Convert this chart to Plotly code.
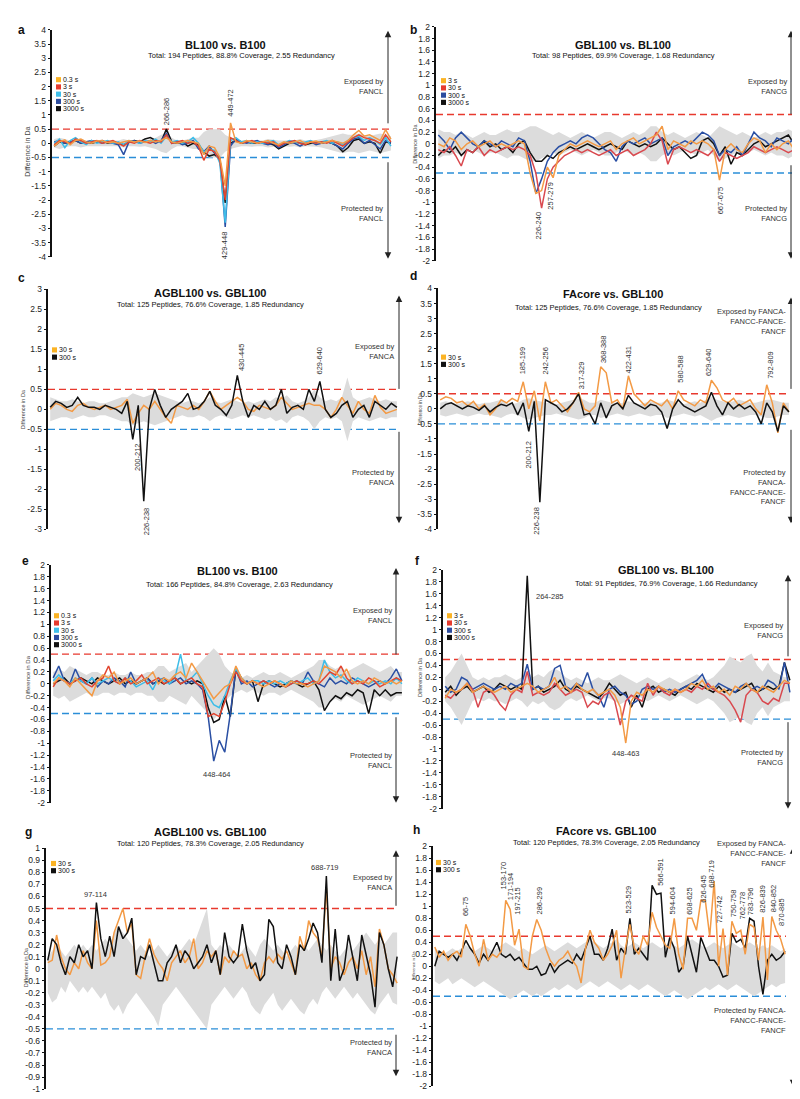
import plotly.graph_objects as go

W, H = 800, 1099
FONT = "Liberation Sans, Arial, Helvetica, sans-serif"

# ---------------- colours ----------------
SQ_OR, SQ_RD, SQ_CY, SQ_BL, SQ_BK = "#FBB324", "#E63B2E", "#3FBFEA", "#2C4C9F", "#111111"
LN_OR, LN_RD, LN_RD2, LN_CY, LN_BL, LN_BK = "#F39A45", "#E2452F", "#D9494F", "#3DBDE8", "#2A4FA3", "#111111"
BAND = "#DCDCDC"
RED_D, BLUE_D = "#E8392E", "#2B8ED8"

# ---------------- data: panel a (BL100 vs. B100) ----------------
a_03 = [-0.1,0.05,0.12,-0.05,0.1,0.15,0.05,0.0,0.08,0.1,
        0.02,0.05,0.0,0.05,0.1,0.05,0.08,0.03,0.1,0.05,
        0.1,0.2,0.05,0.0,0.05,0.1,0.05,0.0,-0.4,-0.1,
        -0.15,-0.5,-1.5,0.72,0.05,0.0,0.1,0.05,0.0,0.05,
        0.1,0.0,-0.05,0.05,0.0,0.05,0.1,0.0,0.05,0.08,
        0.0,0.05,0.1,0.05,0.0,0.1,0.3,0.45,0.25,0.3,
        0.2,0.1,0.48,0.15]
a_3 = [-0.05,0.1,0.05,0.0,0.15,0.1,0.0,0.05,0.1,0.0,
       0.05,0.1,0.0,-0.1,0.05,0.0,0.1,0.05,0.0,0.1,
       0.05,0.3,0.0,0.05,0.1,0.0,0.05,-0.1,-0.6,-0.2,
       -0.3,-0.6,-2.0,0.2,0.1,0.0,0.05,0.1,0.0,0.05,
       0.0,0.05,-0.1,0.0,0.05,0.1,0.0,-0.05,0.05,0.0,
       0.05,0.0,0.1,0.0,-0.1,0.05,0.2,0.3,0.2,0.15,
       0.1,0.0,0.3,0.05]
a_30 = [0.0,0.15,-0.15,0.1,0.2,0.05,-0.05,0.1,0.0,0.05,
        0.1,0.0,0.05,-0.05,0.1,0.05,0.0,0.1,0.05,0.15,
        0.0,0.25,0.05,0.1,0.0,0.05,0.2,0.0,-0.3,-0.2,
        -0.25,-0.7,-2.8,0.1,0.2,0.05,0.1,0.0,0.05,0.0,
        0.05,0.1,-0.05,0.0,0.1,0.05,0.0,0.05,0.1,0.0,
        0.05,0.1,0.0,0.05,-0.05,0.1,0.2,0.25,0.1,0.2,
        0.1,-0.05,0.2,-0.1]
a_300 = [0.05,0.1,0.0,0.05,0.1,0.0,0.05,0.1,0.05,0.0,
         0.05,0.0,-0.05,-0.4,0.05,0.1,0.0,0.05,0.1,0.0,
         0.1,0.35,0.0,0.05,-0.05,0.0,0.1,-0.2,-0.3,-0.1,
         -0.35,-0.5,-2.95,-0.1,0.15,0.05,0.0,0.05,0.1,0.0,
         -0.05,0.0,-0.15,-0.05,0.05,0.0,-0.1,0.0,0.05,-0.05,
         0.0,0.05,0.0,-0.1,-0.2,0.0,0.15,0.2,0.0,0.1,
         -0.05,-0.2,0.1,0.0]
a_3000 = [-0.1,0.05,0.0,0.05,0.1,0.0,0.05,0.0,0.05,0.1,
          0.0,0.05,0.0,-0.05,0.05,0.1,0.05,0.15,0.2,0.1,
          0.05,0.5,0.05,0.0,0.05,-0.1,0.0,-0.05,-0.3,-0.45,
          -0.4,-0.55,-2.1,0.0,0.1,0.0,0.05,0.0,0.0,0.05,
          0.0,-0.05,-0.2,-0.1,0.0,0.05,0.0,-0.05,0.0,0.05,
          0.0,0.05,0.0,-0.1,-0.3,-0.15,0.1,0.15,0.0,0.05,
          0.0,-0.35,0.05,0.0]
a_band = [0.15,0.2,0.15,0.1,0.1,0.15,0.1,0.1,0.12,0.1,
          0.1,0.12,0.1,0.15,0.1,0.1,0.12,0.1,0.15,0.2,
          0.3,0.35,0.2,0.1,0.1,0.15,0.2,0.2,0.4,0.5,
          0.5,0.5,0.3,0.2,0.15,0.1,0.1,0.12,0.1,0.1,
          0.15,0.12,0.1,0.1,0.12,0.1,0.15,0.1,0.1,0.12,
          0.15,0.2,0.25,0.3,0.35,0.3,0.3,0.35,0.3,0.25,
          0.3,0.35,0.3,0.25]

# ---------------- panel b (GBL100 vs. BL100) ----------------
b_3 = [0.0,-0.05,0.1,0.05,-0.1,0.0,0.05,-0.05,0.0,0.05,
       -0.05,0.0,-0.05,0.0,0.05,0.0,-0.5,-0.85,-0.8,-0.4,
       -0.58,-0.2,-0.1,0.0,-0.05,0.0,0.05,0.0,-0.05,0.0,
       0.05,-0.1,0.0,0.05,0.1,0.0,0.05,0.1,0.15,0.3,
       -0.1,0.05,0.0,-0.05,0.05,0.0,0.05,0.0,-0.1,-0.62,
       -0.1,0.0,-0.1,-0.15,0.0,0.1,0.05,-0.15,0.0,-0.1,
       0.0,0.05,-0.1,0.32]
b_30 = [-0.1,-0.15,-0.05,-0.2,-0.38,-0.1,-0.15,-0.05,-0.2,-0.1,
        -0.15,-0.1,-0.05,-0.1,-0.05,-0.1,-0.2,-0.5,-1.1,-0.6,
        -0.4,-0.3,-0.2,-0.15,-0.1,-0.15,-0.1,-0.15,-0.2,-0.15,
        -0.1,-0.2,-0.15,-0.1,-0.2,-0.15,-0.1,0.0,0.2,0.05,
        -0.35,-0.1,-0.05,-0.1,-0.15,-0.1,-0.15,-0.2,-0.1,-0.3,
        -0.15,-0.2,-0.25,-0.2,-0.15,-0.05,-0.1,-0.15,-0.1,-0.05,
        -0.1,-0.15,-0.1,0.2]
b_300 = [0.15,0.05,-0.1,0.1,0.2,0.1,0.0,-0.05,0.05,0.0,
         -0.05,0.05,0.0,-0.05,0.1,0.05,-0.3,-0.85,-0.6,-0.3,
         -0.15,-0.05,0.0,0.05,0.0,0.1,0.15,0.1,0.0,-0.1,
         -0.15,-0.3,-0.05,0.05,0.0,0.05,0.1,0.0,0.05,0.1,
         -0.2,-0.05,0.0,0.05,0.0,0.1,0.2,0.15,0.05,-0.2,
         -0.1,-0.15,-0.05,-0.2,0.0,0.2,0.1,0.05,-0.05,0.1,
         0.05,0.0,0.1,0.2]
b_3000 = [-0.2,-0.1,-0.15,-0.05,-0.2,-0.1,-0.15,-0.05,0.05,-0.05,
          0.0,-0.1,-0.05,-0.15,0.0,0.05,-0.15,-0.3,-0.3,-0.2,
          -0.25,-0.15,-0.1,-0.05,-0.1,-0.05,0.0,-0.05,-0.1,-0.05,
          0.0,-0.05,-0.1,0.05,0.0,-0.05,0.0,-0.05,0.0,0.1,
          0.0,-0.1,-0.05,-0.15,-0.25,-0.2,0.05,0.1,0.0,-0.2,
          -0.05,-0.35,-0.15,-0.2,-0.1,0.0,0.05,-0.05,0.0,0.05,
          0.1,0.15,0.0,0.1]
b_band = [0.25,0.2,0.2,0.15,0.2,0.15,0.1,0.15,0.2,0.15,
          0.15,0.2,0.25,0.2,0.2,0.25,0.3,0.3,0.25,0.2,
          0.15,0.2,0.15,0.1,0.15,0.2,0.15,0.1,0.15,0.2,
          0.2,0.15,0.1,0.15,0.2,0.15,0.2,0.3,0.3,0.2,
          0.15,0.2,0.15,0.1,0.15,0.2,0.15,0.1,0.2,0.3,
          0.25,0.2,0.15,0.2,0.15,0.1,0.15,0.2,0.15,0.2,
          0.2,0.25,0.2,0.2]

# ---------------- panel c (AGBL100 vs. GBL100) ----------------
c_30 = [0.0,0.15,0.1,0.0,-0.05,0.1,0.15,0.05,0.0,0.05,
        0.1,0.0,0.05,0.1,0.25,-0.35,-0.1,0.1,0.0,0.2,
        0.0,-0.2,-0.35,0.1,0.05,0.0,0.1,0.0,0.2,0.45,
        0.2,0.0,0.1,0.2,0.3,0.2,0.0,-0.05,0.1,0.05,
        0.0,0.1,0.3,0.15,0.0,0.05,0.1,0.15,0.1,0.1,
        0.0,-0.2,0.0,0.3,0.1,-0.1,0.2,0.0,-0.1,0.35,
        0.05,-0.1,-0.05,0.0]
c_300 = [0.05,0.2,0.15,0.05,0.1,0.3,0.1,0.05,0.05,0.0,
         0.1,0.05,0.0,-0.1,0.2,-0.75,0.1,-2.3,0.0,0.5,
         0.1,-0.2,0.0,0.1,0.2,0.4,0.0,0.05,0.2,0.45,
         0.1,0.0,-0.15,0.1,0.85,0.2,-0.2,0.1,0.0,0.2,
         0.0,0.1,0.5,-0.1,0.05,0.1,0.0,0.5,0.2,0.7,
         0.0,-0.2,-0.1,0.1,0.2,-0.2,0.0,0.1,-0.2,0.2,
         0.1,0.0,0.15,0.05]
c_band = [0.3,0.25,0.2,0.2,0.25,0.2,0.15,0.2,0.2,0.15,
          0.15,0.2,0.25,0.3,0.3,0.4,0.35,0.3,0.35,0.4,
          0.35,0.3,0.25,0.2,0.15,0.2,0.2,0.15,0.2,0.3,
          0.2,0.15,0.2,0.25,0.2,0.15,0.2,0.15,0.2,0.25,
          0.2,0.3,0.25,0.35,0.2,0.15,0.2,0.3,0.5,0.3,
          0.2,0.25,0.2,0.3,0.8,0.3,0.2,0.25,0.3,0.25,
          0.2,0.25,0.2,0.2]

# ---------------- panel d (FAcore vs. GBL100) ----------------
d_30 = [0.3,0.4,0.35,0.2,0.25,0.1,0.25,0.0,0.15,-0.2,
        0.0,0.3,0.2,0.35,0.25,0.9,0.0,0.6,-0.4,0.9,
        0.2,0.3,0.1,-0.1,0.2,0.55,0.0,-0.1,0.1,1.4,
        1.2,0.2,0.3,0.0,1.1,0.5,0.3,0.1,0.3,0.2,
        0.1,0.3,0.0,0.6,0.3,0.2,0.1,0.3,0.2,0.95,
        0.7,0.3,0.2,0.35,0.1,0.2,0.3,0.0,-0.2,0.8,
        0.2,-0.8,0.2,-0.1]
d_300 = [0.0,0.15,0.2,0.1,0.0,0.1,0.05,-0.05,0.1,-0.1,
         0.05,0.15,0.1,0.2,-0.2,0.2,-0.75,0.25,-3.1,0.3,
         0.2,0.1,-0.1,0.0,0.2,0.5,-0.2,-0.15,-0.5,0.2,
         -0.3,0.1,0.2,0.0,0.45,0.2,0.1,0.0,0.15,0.1,
         -0.1,-0.65,0.0,0.3,0.1,0.0,-0.1,0.0,0.1,0.55,
         0.1,-0.2,0.2,0.0,0.15,0.0,0.1,-0.1,-0.5,0.2,
         -0.1,-0.75,0.1,-0.1]
d_band = [0.2,0.25,0.2,0.15,0.2,0.25,0.2,0.15,0.2,0.2,
          0.25,0.3,0.2,0.15,0.2,0.3,0.35,0.3,0.25,0.2,
          0.2,0.15,0.2,0.25,0.3,0.35,0.3,0.2,0.2,0.3,
          0.25,0.2,0.15,0.2,0.25,0.2,0.15,0.2,0.25,0.2,
          0.2,0.3,0.25,0.2,0.15,0.2,0.25,0.2,0.3,0.4,
          0.3,0.25,0.2,0.25,0.3,0.25,0.2,0.2,0.25,0.3,
          0.3,0.25,0.2,0.2]

# ---------------- panel e (BL100 vs. B100, second set) ----------------
e_03 = [0.0,0.1,0.05,-0.05,0.1,0.0,-0.1,-0.2,0.05,0.15,
        0.1,0.2,0.0,0.05,0.1,0.0,0.05,0.1,0.2,0.0,
        0.1,0.05,0.15,0.2,0.1,0.35,0.2,0.05,-0.1,-0.25,
        -0.15,-0.05,0.0,0.3,0.1,0.0,0.05,0.0,-0.05,0.0,
        0.05,0.0,-0.05,0.05,0.0,0.0,-0.05,0.0,0.05,0.3,
        0.25,0.2,0.1,0.25,0.05,0.0,0.05,0.0,0.1,0.05,
        0.0,0.05,0.0,0.05]
e_3 = [-0.05,0.1,0.05,0.0,0.05,0.1,0.0,-0.05,0.05,0.1,
       0.3,0.05,0.0,0.1,0.0,0.05,0.15,0.0,0.05,0.1,
       0.0,0.05,0.1,0.0,0.05,0.1,0.0,-0.05,-0.55,-0.5,
       -0.55,-0.3,0.0,0.2,0.05,0.0,0.05,0.0,0.05,0.0,
       0.05,0.0,-0.05,0.0,0.05,0.0,0.0,0.05,0.0,0.1,
       0.2,0.15,0.3,0.1,0.0,0.05,0.0,0.1,0.05,-0.05,
       0.0,0.05,0.1,0.05]
e_30 = [0.05,0.15,0.05,0.0,0.1,0.05,0.0,0.1,0.0,0.05,
        0.1,0.05,0.0,0.1,0.05,-0.05,0.0,0.05,-0.1,0.1,
        0.05,0.0,0.1,0.5,0.05,0.1,0.2,0.0,-0.2,-0.35,
        -0.4,-0.2,0.05,0.25,0.1,0.0,0.05,0.05,0.0,0.05,
        0.0,0.05,0.0,0.05,0.0,0.05,0.1,0.0,0.05,0.4,
        0.2,0.1,0.15,0.05,0.0,0.1,0.05,0.0,0.05,0.0,
        0.05,0.0,0.1,0.0]
e_300 = [0.1,0.3,0.05,0.0,0.25,0.05,0.0,0.1,-0.05,0.05,
         0.0,0.1,0.05,-0.05,0.2,0.0,0.05,0.1,0.0,0.05,
         0.1,0.0,0.05,0.1,0.0,0.05,0.0,-0.1,-0.55,-1.3,
         -0.95,-1.15,-0.5,0.25,0.0,0.05,-0.05,0.0,0.05,0.0,
         -0.05,0.0,-0.05,0.0,0.05,0.0,0.2,0.05,0.0,-0.05,
         0.1,0.0,0.05,0.0,0.1,0.05,0.0,-0.05,0.0,0.05,
         0.0,0.1,0.25,0.05]
e_3000 = [0.0,0.05,0.1,0.0,0.05,0.1,0.05,0.0,0.1,0.05,
          0.0,0.05,0.1,0.0,0.05,0.0,0.05,0.1,0.0,0.05,
          0.0,0.05,0.1,0.0,0.05,0.0,0.05,0.0,-0.4,-0.65,
          -0.6,-0.2,-0.55,0.25,0.1,0.0,0.05,-0.3,0.0,0.05,
          0.0,-0.05,0.0,0.05,0.0,-0.05,0.0,0.05,-0.1,-0.45,
          -0.3,-0.2,-0.25,-0.15,-0.2,-0.1,-0.15,-0.5,-0.1,-0.2,
          -0.1,-0.2,-0.15,-0.15]
e_band = [0.2,0.25,0.2,0.3,0.25,0.2,0.15,0.2,0.2,0.15,
          0.15,0.2,0.15,0.15,0.2,0.15,0.15,0.2,0.2,0.3,
          0.3,0.2,0.25,0.3,0.35,0.2,0.3,0.4,0.5,0.6,
          0.5,0.3,0.2,0.15,0.1,0.15,0.1,0.15,0.2,0.15,
          0.15,0.2,0.15,0.1,0.15,0.2,0.25,0.3,0.4,0.4,
          0.3,0.25,0.3,0.2,0.25,0.3,0.35,0.3,0.25,0.2,
          0.25,0.3,0.2,0.2]

# ---------------- panel f (GBL100 vs. BL100, second set) ----------------
f_3 = [-0.15,0.0,-0.05,0.0,0.1,-0.05,0.0,0.05,0.0,-0.05,
       0.0,0.05,-0.05,0.0,0.05,0.1,0.05,-0.05,0.0,0.05,
       0.2,0.0,0.05,-0.05,0.1,0.0,-0.05,0.0,-0.1,-0.05,
       0.0,-0.1,-0.3,-0.9,-0.2,-0.05,-0.1,0.0,-0.05,0.05,
       0.0,-0.05,0.0,-0.05,0.0,0.1,0.05,0.15,0.0,0.05,
       -0.05,0.0,-0.1,0.05,0.0,0.1,0.0,-0.05,0.05,0.0,
       -0.05,0.05,0.15,0.1]
f_30 = [-0.1,-0.15,-0.05,0.0,0.1,0.0,-0.3,-0.05,0.0,-0.1,
        -0.25,-0.35,-0.1,0.0,-0.05,0.3,-0.1,-0.05,-0.1,-0.05,
        0.1,0.0,-0.1,-0.05,0.0,-0.05,-0.3,-0.2,-0.25,-0.1,
        -0.05,-0.2,-0.6,-0.2,-0.1,-0.15,-0.2,0.1,-0.1,0.05,
        -0.05,-0.1,0.0,-0.05,0.0,-0.05,0.05,0.0,0.1,0.0,
        -0.05,-0.1,-0.2,-0.35,-0.55,-0.1,0.0,-0.05,-0.2,-0.25,
        -0.15,-0.2,0.1,0.1]
f_300 = [0.05,-0.05,0.0,0.2,0.15,0.0,0.05,0.1,0.05,0.0,
         0.05,0.0,0.1,0.05,0.1,0.42,0.0,0.05,0.0,0.05,
         0.35,0.4,0.05,0.0,0.1,0.05,0.28,0.0,-0.1,-0.3,
         0.0,0.05,-0.05,-0.1,-0.25,-0.2,0.0,0.05,0.0,0.05,
         -0.05,0.0,-0.05,0.0,0.05,0.1,0.15,0.25,0.05,0.0,
         0.1,0.05,0.0,-0.05,0.05,0.1,0.0,0.05,0.0,0.15,
         0.1,0.0,0.45,-0.05]
f_3000 = [-0.05,0.05,-0.1,0.0,0.05,-0.05,0.0,0.05,-0.05,0.0,
          0.1,0.05,0.0,0.05,0.0,1.9,0.0,0.05,-0.05,0.0,
          0.05,0.15,0.0,-0.05,0.05,0.0,-0.05,-0.1,-0.15,-0.05,
          0.1,0.0,-0.1,-0.05,-0.3,-0.1,-0.3,0.0,0.05,-0.05,
          0.0,-0.05,-0.1,0.0,0.05,0.0,0.1,0.05,0.0,-0.05,
          0.05,-0.05,0.0,-0.05,0.0,0.05,0.1,-0.05,0.0,0.05,
          0.0,0.05,0.45,0.15]
f_band = [0.2,0.3,0.45,0.6,0.4,0.2,0.15,0.2,0.15,0.2,
          0.2,0.25,0.2,0.15,0.2,0.3,0.2,0.25,0.2,0.3,
          0.35,0.3,0.2,0.15,0.2,0.15,0.1,0.15,0.2,0.15,
          0.15,0.2,0.25,0.2,0.15,0.1,0.15,0.2,0.15,0.1,
          0.15,0.2,0.15,0.1,0.15,0.2,0.25,0.2,0.15,0.2,
          0.3,0.4,0.55,0.5,0.45,0.55,0.6,0.4,0.3,0.45,
          0.3,0.25,0.2,0.2]

# ---------------- panel g (AGBL100 vs. GBL100, second set) ----------------
g_30 = [0.05,0.07,0.28,0.1,0.0,-0.05,0.05,0.0,0.15,0.05,
        0.0,0.4,0.03,0.05,0.1,0.3,0.4,0.5,0.3,0.38,
        -0.05,-0.08,0.1,0.25,0.12,0.05,0.0,-0.1,0.05,0.1,
        0.15,0.05,0.1,0.25,0.0,0.05,0.15,0.1,0.15,-0.05,
        0.1,0.05,0.15,0.1,0.12,0.0,0.05,-0.05,-0.1,0.05,
        0.1,0.05,0.12,0.08,0.15,0.05,-0.05,0.27,0.15,0.4,
        0.3,0.25,0.1,0.67,0.0,0.1,0.05,-0.05,0.05,0.1,
        0.0,0.15,-0.05,0.1,-0.15,0.33,0.2,0.0,-0.05,-0.12]
g_300 = [0.07,0.25,0.2,0.05,-0.05,0.1,0.05,0.2,0.1,0.15,
         0.0,0.55,0.25,0.1,0.27,0.1,0.35,0.25,0.3,0.42,
         -0.05,0.1,0.08,0.2,0.05,-0.1,-0.1,0.05,0.1,0.2,
         0.05,0.15,0.1,0.0,0.05,0.1,0.2,0.05,0.15,-0.05,
         0.3,0.1,0.05,0.1,0.37,0.15,0.0,0.05,-0.1,-0.05,
         0.41,0.35,0.05,0.0,0.2,0.1,-0.05,0.2,0.15,0.25,
         0.38,0.3,0.05,0.77,-0.1,0.33,-0.1,0.0,0.28,0.1,
         -0.1,0.28,0.1,-0.05,-0.32,0.3,0.2,0.0,-0.15,0.1]
g_hi = [0.1,0.15,0.2,0.15,0.1,0.15,0.2,0.15,0.2,0.15,
        0.2,0.15,0.2,0.25,0.2,0.3,0.35,0.3,0.25,0.2,
        0.15,0.2,0.15,0.1,0.15,0.2,0.15,0.1,0.15,0.2,
        0.15,0.2,0.25,0.2,0.3,0.4,0.5,0.2,0.15,0.2,
        0.15,0.2,0.15,0.1,0.15,0.2,0.15,0.1,0.2,0.25,
        0.2,0.15,0.2,0.15,0.1,0.15,0.2,0.15,0.2,0.15,
        0.2,0.25,0.2,0.15,0.2,0.15,0.1,0.15,0.2,0.15,
        0.2,0.25,0.3,0.25,0.2,0.25,0.2,0.25,0.3,0.3]
g_lo = [-0.2,-0.28,-0.25,-0.15,-0.2,-0.1,-0.15,-0.2,-0.15,-0.2,
        -0.15,-0.2,-0.25,-0.2,-0.3,-0.35,-0.3,-0.38,-0.3,-0.25,
        -0.2,-0.25,-0.3,-0.35,-0.4,-0.48,-0.3,-0.25,-0.2,-0.15,
        -0.2,-0.25,-0.3,-0.35,-0.4,-0.45,-0.5,-0.3,-0.25,-0.2,
        -0.15,-0.2,-0.25,-0.2,-0.15,-0.2,-0.3,-0.35,-0.38,-0.3,
        -0.25,-0.2,-0.3,-0.35,-0.3,-0.25,-0.3,-0.35,-0.38,-0.3,
        -0.25,-0.3,-0.2,-0.15,-0.2,-0.25,-0.2,-0.15,-0.2,-0.25,
        -0.2,-0.25,-0.3,-0.35,-0.38,-0.3,-0.25,-0.2,-0.28,-0.3]

# ---------------- panel h (FAcore vs. GBL100, second set) ----------------
h_30 = [0.32,0.15,0.25,0.1,0.2,0.25,0.15,0.7,0.5,0.2,
        0.0,0.45,0.1,0.2,0.15,0.25,1.1,0.95,0.35,0.62,
        0.0,-0.05,0.5,0.78,0.6,0.3,0.1,0.0,0.1,0.15,
        0.25,0.1,0.0,-0.28,0.3,0.6,0.4,0.3,0.1,0.2,
        0.35,0.6,-0.2,0.3,0.7,0.3,0.2,0.5,0.35,0.9,
        0.65,0.5,0.35,0.3,0.8,0.2,-0.05,0.8,0.8,0.6,
        1.1,1.1,0.5,1.42,0.0,0.63,-0.15,0.75,0.55,0.6,
        0.2,0.7,0.65,0.1,0.82,-0.23,0.83,0.6,0.45,0.2]
h_300 = [0.0,0.25,0.2,0.15,0.2,0.1,0.25,0.43,0.3,0.2,
         0.05,0.2,0.1,0.25,0.4,0.2,0.15,0.2,0.1,0.15,
         0.05,-0.05,-0.05,0.0,-0.15,-0.12,0.05,-0.1,0.0,0.05,
         0.1,0.05,0.2,0.1,0.3,0.5,0.2,0.2,0.1,0.3,
         0.62,0.1,0.3,0.2,0.8,0.2,0.3,0.2,0.1,1.35,
         1.2,1.22,0.15,0.48,0.3,-0.1,0.0,0.5,0.2,-0.1,
         0.48,0.3,0.1,0.1,0.0,-0.18,-0.15,0.55,0.4,0.45,
         0.3,0.8,0.75,0.0,-0.47,0.1,0.2,0.1,0.15,0.25]
h_hi = [0.3,0.25,0.2,0.25,0.3,0.25,0.3,0.35,0.3,0.25,
        0.3,0.35,0.3,0.25,0.3,0.35,0.4,0.35,0.3,0.25,
        0.3,0.25,0.2,0.25,0.3,0.35,0.3,0.25,0.3,0.35,
        0.4,0.35,0.3,0.35,0.4,0.45,0.4,0.35,0.3,0.35,
        0.4,0.45,0.35,0.3,0.35,0.4,0.35,0.3,0.35,0.4,
        0.35,0.3,0.35,0.4,0.35,0.3,0.35,0.4,0.45,0.4,
        0.35,0.3,0.35,0.4,0.35,0.3,0.35,0.4,0.35,0.3,
        0.35,0.4,0.35,0.3,0.35,0.3,0.35,0.3,0.25,0.3]
h_lo = [-0.25,-0.3,-0.25,-0.2,-0.3,-0.25,-0.2,-0.25,-0.3,-0.35,
        -0.3,-0.25,-0.3,-0.35,-0.4,-0.45,-0.5,-0.55,-0.5,-0.45,
        -0.4,-0.45,-0.5,-0.45,-0.5,-0.45,-0.4,-0.35,-0.4,-0.35,
        -0.3,-0.35,-0.4,-0.35,-0.3,-0.25,-0.3,-0.35,-0.3,-0.25,
        -0.3,-0.35,-0.4,-0.35,-0.3,-0.35,-0.4,-0.35,-0.3,-0.35,
        -0.4,-0.45,-0.5,-0.45,-0.4,-0.45,-0.5,-0.55,-0.5,-0.45,
        -0.4,-0.35,-0.4,-0.35,-0.3,-0.35,-0.4,-0.35,-0.3,-0.35,
        -0.4,-0.45,-0.5,-0.45,-0.4,-0.35,-0.3,-0.35,-0.3,-0.28]

# ---------------- peptide labels (index, value, text, mode) ----------------
a_labels = [(21, 0.58, "266-286", "up"), (33, 0.85, "449-472", "up"), (32, -3.02, "429-448", "down")]
b_labels = [(17.4, -1.12, "226-240", "down"), (19.4, -0.62, "257-279", "down"), (49.2, -0.7, "667-675", "down")]
c_labels = [(15.9, -0.8, "200-212", "down"), (17.4, -2.4, "226-238", "down"),
            (34.8, 0.9, "430-445", "up"), (48.9, 0.83, "629-640", "up")]
d_labels = [(14.9, 1.07, "185-199", "up"), (19.1, 1.07, "242-256", "up"), (25.5, 0.6, "317-329", "up"),
            (29.5, 1.47, "368-388", "up"), (34.0, 1.12, "422-431", "up"), (43.5, 0.8, "580-588", "up"),
            (48.6, 1.03, "629-640", "up"), (59.7, 0.92, "792-809", "up"),
            (15.9, -0.98, "200-212", "down"), (17.4, -3.2, "226-238", "down")]
e_labels = [(29.6, -1.52, "448-464", "h")]
f_labels = [(16.2, 1.55, "264-285", "hl"), (33.0, -1.07, "448-463", "h")]
g_labels = [(10.9, 0.62, "97-114", "h"), (62.8, 0.84, "688-719", "h")]
h_labels = [(7.1, 0.8, "66-75", "up"), (15.5, 1.24, "153-170", "up"), (17.0, 1.07, "171-194", "up"),
            (18.6, 0.83, "197-215", "up"), (23.5, 0.83, "286-299", "up"), (43.7, 0.84, "523-529", "up"),
            (50.9, 1.3, "566-591", "up"), (53.7, 0.83, "594-604", "up"), (57.4, 0.83, "608-625", "up"),
            (60.4, 1.02, "626-645", "up"), (62.2, 1.27, "688-719", "up"), (64.2, 0.69, "727-742", "up"),
            (67.4, 0.78, "750-758", "up"), (69.3, 0.75, "762-778", "up"), (71.2, 0.81, "783-796", "up"),
            (74.0, 0.86, "826-839", "up"), (76.4, 0.86, "840-852", "up"), (78.3, 0.64, "870-885", "up")]

LEG5 = ["0.3 s", "3 s", "30 s", "300 s", "3000 s"]
LEG4 = ["3 s", "30 s", "300 s", "3000 s"]
LEG2 = ["30 s", "300 s"]


def neg(v):
    return [-x for x in v]


# ---------------- panel layout specs ----------------
panels = [
    dict(letter="a", lp=(13, 17), ax=44, ex=384, yt=17, yb=246, yr=(-4, 4), step=0.5,
         title="BL100 vs. B100", tp=(217, 32),
         sub="Total: 194 Peptides, 88.8% Coverage, 2.55 Redundancy", sp=(233, 43),
         yt_pos=(20, 140, 7),
         leg=(48, 67.3, 7.3, LEG5, [SQ_OR, SQ_RD, SQ_CY, SQ_BL, SQ_BK]),
         series=[(a_3000, LN_BK), (a_300, LN_BL), (a_30, LN_CY), (a_3, LN_RD), (a_03, LN_OR)],
         band=(neg(a_band), a_band), labels=a_labels,
         arrow=(380, 18, 112, 150, 248),
         exp=("Exposed by<br>FANCL", 377, 74), prot=("Protected by<br>FANCL", 377, 202)),
    dict(letter="b", lp=(406, 17), ax=428, ex=793, yt=14, yb=250, yr=(-2, 2), step=0.2,
         title="GBL100 vs. BL100", tp=(615, 32),
         sub="Total: 98 Peptides, 69.9% Coverage, 1.68 Redundancy", sp=(615, 43),
         yt_pos=(407, 132, 5.5),
         leg=(433, 68.3, 7.3, LEG4, [SQ_OR, SQ_RD, SQ_BL, SQ_BK]),
         series=[(b_3000, LN_BK), (b_300, LN_BL), (b_30, LN_RD2), (b_3, LN_OR)],
         band=(neg(b_band), b_band), labels=b_labels,
         arrow=(783, 18, 103, 153, 248),
         exp=("Exposed by<br>FANCG", 781, 74.5), prot=("Protected by<br>FANCG", 781, 202)),
    dict(letter="c", lp=(13, 267), ax=40, ex=390, yt=279, yb=521, yr=(-3, 3), step=0.5,
         title="AGBL100 vs. GBL100", tp=(202, 283),
         sub="Total: 125 Peptides, 76.6% Coverage, 1.85 Redundancy", sp=(202, 294),
         yt_pos=(15, 400, 5.5),
         leg=(44, 340, 7.3, LEG2, [SQ_OR, SQ_BK]),
         series=[(c_30, LN_OR), (c_300, LN_BK)],
         band=(neg(c_band), c_band), labels=c_labels,
         arrow=(391, 285, 380, 422, 515),
         exp=("Exposed by<br>FANCA", 388, 341.5), prot=("Protected by<br>FANCA", 388, 469)),
    dict(letter="d", lp=(405, 265), ax=430, ex=782, yt=278, yb=521, yr=(-4, 4), step=0.5,
         title="FAcore vs. GBL100", tp=(605, 284),
         sub="Total: 125 Peptides, 76.6% Coverage, 1.85 Redundancy", sp=(600, 297),
         yt_pos=(412, 400, 4.5),
         leg=(433, 347.3, 7.3, LEG2, [SQ_OR, SQ_BK]),
         series=[(d_30, LN_OR), (d_300, LN_BK)],
         band=(neg(d_band), d_band), labels=d_labels,
         arrow=(783, 287, 380, 420, 515),
         exp=("Exposed by FANCA-<br>FANCC-FANCE-<br>FANCF", 780, 311),
         prot=("Protected by<br>FANCA-<br>FANCC-FANCE-<br>FANCF", 780, 478)),
    dict(letter="e", lp=(17, 553), ax=43, ex=395, yt=557, yb=797, yr=(-2, 2), step=0.2,
         title="BL100 vs. B100", tp=(230, 563),
         sub="Total: 166 Peptides, 84.8% Coverage, 2.63 Redundancy", sp=(232, 577),
         yt_pos=(20, 670, 6),
         leg=(46, 608.3, 7.3, LEG5, [SQ_OR, SQ_RD, SQ_CY, SQ_BL, SQ_BK]),
         series=[(e_3000, LN_BK), (e_300, LN_BL), (e_30, LN_CY), (e_3, LN_RD), (e_03, LN_OR)],
         band=(neg(e_band), e_band), labels=e_labels,
         arrow=(388, 560, 648, 710, 797),
         exp=("Exposed by<br>FANCL", 386, 608), prot=("Protected by<br>FANCL", 386, 754.5)),
    dict(letter="f", lp=(410, 553), ax=435, ex=783, yt=562, yb=803, yr=(-2, 2), step=0.2,
         title="GBL100 vs. BL100", tp=(658, 562),
         sub="Total: 91 Peptides, 76.9% Coverage, 1.66 Redundancy", sp=(658, 576),
         yt_pos=(412, 670, 5.5),
         leg=(439, 608.3, 7.3, LEG4, [SQ_OR, SQ_RD, SQ_BL, SQ_BK]),
         series=[(f_3000, LN_BK), (f_300, LN_BL), (f_30, LN_RD2), (f_3, LN_OR)],
         band=(neg(f_band), f_band), labels=f_labels,
         arrow=(780, 567, 650, 715, 803),
         exp=("Exposed by<br>FANCG", 777, 623.5), prot=("Protected by<br>FANCG", 777, 751.5)),
    dict(letter="g", lp=(20, 827), ax=38, ex=390, yt=843, yb=1086, yr=(-1, 1), step=0.1,
         title="AGBL100 vs. GBL100", tp=(202, 827),
         sub="Total: 120 Peptides, 78.3% Coverage, 2.05 Redundancy", sp=(203, 838),
         yt_pos=(18, 963, 5.5),
         leg=(43, 858.3, 7.3, LEG2, [SQ_OR, SQ_BK]),
         series=[(g_30, LN_OR), (g_300, LN_BK)],
         band=(g_lo, g_hi), labels=g_labels,
         arrow=(388, 845, 902, 1030, 1073),
         exp=("Exposed by<br>FANCA", 386, 877), prot=("Protected by<br>FANCA", 386, 1044.5)),
    dict(letter="h", lp=(408, 825), ax=425, ex=778, yt=841, yb=1083, yr=(-2, 2), step=0.2,
         title="FAcore vs. GBL100", tp=(598, 826),
         sub="Total: 120 Peptides, 78.3% Coverage, 2.05 Redundancy", sp=(598, 837),
         yt_pos=(405, 962, 4),
         leg=(428, 857.3, 7.3, LEG2, [SQ_OR, SQ_BK]),
         series=[(h_300, LN_BK), (h_30, LN_OR)],
         band=(h_lo, h_hi), labels=h_labels,
         arrow=(785, 842, 930, 999, 1083),
         exp=("Exposed by FANCA-<br>FANCC-FANCE-<br>FANCF", 780, 848),
         prot=("Protected by FANCA-<br>FANCC-FANCE-<br>FANCF", 780, 1017)),
]


def fx(px):
    return px / W


def fy(py):
    return 1 - py / H


def fmt(v):
    v = round(v, 2)
    if abs(v) < 1e-9:
        return "0"
    return f"{v:g}"


fig = go.Figure()
ann = []
shapes = []
layout_axes = {}
TXT = "#333333"

for k, P in enumerate(panels, start=1):
    xa = "x" if k == 1 else f"x{k}"
    ya = "y" if k == 1 else f"y{k}"
    n = len(P["series"][0][0])
    xs = list(range(n))
    lo, hi = P["band"]
    fig.add_trace(go.Scatter(x=xs, y=lo, xaxis=xa, yaxis=ya, mode="lines",
                             line=dict(width=0, color=BAND), hoverinfo="skip", showlegend=False))
    fig.add_trace(go.Scatter(x=xs, y=hi, xaxis=xa, yaxis=ya, mode="lines", fill="tonexty",
                             fillcolor=BAND, line=dict(width=0, color=BAND),
                             hoverinfo="skip", showlegend=False))
    for vals, col in P["series"]:
        fig.add_trace(go.Scatter(x=xs, y=vals, xaxis=xa, yaxis=ya, mode="lines",
                                 line=dict(color=col, width=1.5), showlegend=False))

    y0, y1 = P["yr"]
    nt = int(round((y1 - y0) / P["step"]))
    tv = [y0 + i * P["step"] for i in range(nt + 1)]
    xr = [-0.4, n - 1 + 0.2]
    layout_axes["xaxis" if k == 1 else f"xaxis{k}"] = dict(
        domain=[fx(P["ax"]), fx(P["ex"])], range=xr, visible=False,
        anchor=ya, fixedrange=True)
    layout_axes["yaxis" if k == 1 else f"yaxis{k}"] = dict(
        domain=[fy(P["yb"]), fy(P["yt"])], range=[y0, y1], anchor=xa,
        showline=True, linewidth=1.6, linecolor="#111", ticks="outside", ticklen=2.5,
        tickwidth=1, tickcolor="#111", tickvals=tv, ticktext=[fmt(v) for v in tv],
        tickfont=dict(size=8.5, color="#222", family=FONT), showgrid=False, zeroline=False,
        fixedrange=True)

    # dashed thresholds
    for yv, col in ((0.5, RED_D), (-0.5, BLUE_D)):
        shapes.append(dict(type="line", xref=xa, yref=ya, x0=xr[0], x1=xr[1], y0=yv, y1=yv,
                           line=dict(color=col, width=1.4, dash="7px,4px"), layer="below"))

    # letter, titles
    ann.append(dict(text=f"<b>{P['letter']}</b>", x=fx(P["lp"][0]), y=fy(P["lp"][1]), xref="paper",
                    yref="paper", showarrow=False, font=dict(size=12, family=FONT, color="#111"),
                    xanchor="center", yanchor="middle"))
    ann.append(dict(text=f"<b>{P['title']}</b>", x=fx(P["tp"][0]), y=fy(P["tp"][1]), xref="paper",
                    yref="paper", showarrow=False, font=dict(size=11, family=FONT, color="#111"),
                    xanchor="center", yanchor="middle"))
    ann.append(dict(text=P["sub"], x=fx(P["sp"][0]), y=fy(P["sp"][1]), xref="paper", yref="paper",
                    showarrow=False, font=dict(size=7.5, family=FONT, color="#111"),
                    xanchor="center", yanchor="middle"))
    # y axis title
    tx, ty, ts = P["yt_pos"]
    ann.append(dict(text="Difference in Da", x=fx(tx), y=fy(ty), xref="paper", yref="paper",
                    showarrow=False, textangle=-90, font=dict(size=ts, family=FONT, color="#444"),
                    xanchor="center", yanchor="middle"))
    # legend
    lx, ly, lstep, names, cols = P["leg"]
    for i, (nm, col) in enumerate(zip(names, cols)):
        cy = ly + i * lstep
        shapes.append(dict(type="rect", xref="paper", yref="paper", x0=fx(lx), x1=fx(lx + 5),
                           y0=fy(cy + 2.6), y1=fy(cy - 2.6), fillcolor=col, line=dict(width=0)))
        ann.append(dict(text=nm, x=fx(lx + 6), y=fy(cy), xref="paper", yref="paper",
                        showarrow=False, font=dict(size=7, family=FONT, color="#111"),
                        xanchor="left", yanchor="middle", borderpad=0))
    # peptide labels
    for xi, yv, txt, mode in P["labels"]:
        d = dict(text=txt, x=xi, y=yv, xref=xa, yref=ya, showarrow=False,
                 font=dict(size=7.5, family=FONT, color=TXT))
        if mode == "up":
            d.update(textangle=-90, xanchor="center", yanchor="bottom")
        elif mode == "down":
            d.update(textangle=-90, xanchor="center", yanchor="top")
        elif mode == "hl":
            d.update(xanchor="left", yanchor="middle")
        else:
            d.update(xanchor="center", yanchor="middle")
        ann.append(d)
    # side arrows
    axp, top, uend, lstart, bot = P["arrow"]
    ann.append(dict(text="", x=fx(axp), y=fy(top), xref="paper", yref="paper", showarrow=True,
                    ax=0, ay=uend - top, arrowhead=2, arrowsize=1.3, arrowwidth=1, arrowcolor="#222"))
    ann.append(dict(text="", x=fx(axp), y=fy(bot), xref="paper", yref="paper", showarrow=True,
                    ax=0, ay=-(bot - lstart), arrowhead=2, arrowsize=1.3, arrowwidth=1,
                    arrowcolor="#222"))
    for txt, rx, cy in (P["exp"], P["prot"]):
        ann.append(dict(text=txt, x=fx(rx), y=fy(cy), xref="paper", yref="paper", showarrow=False,
                        align="right", xanchor="right", yanchor="middle",
                        font=dict(size=7.5, family=FONT, color=TXT)))

fig.update_layout(width=W, height=H, margin=dict(l=0, r=0, t=0, b=0),
                  paper_bgcolor="white", plot_bgcolor="white", showlegend=False,
                  annotations=ann, shapes=shapes, font=dict(family=FONT), **layout_axes)

fig.write_html("out.html")
